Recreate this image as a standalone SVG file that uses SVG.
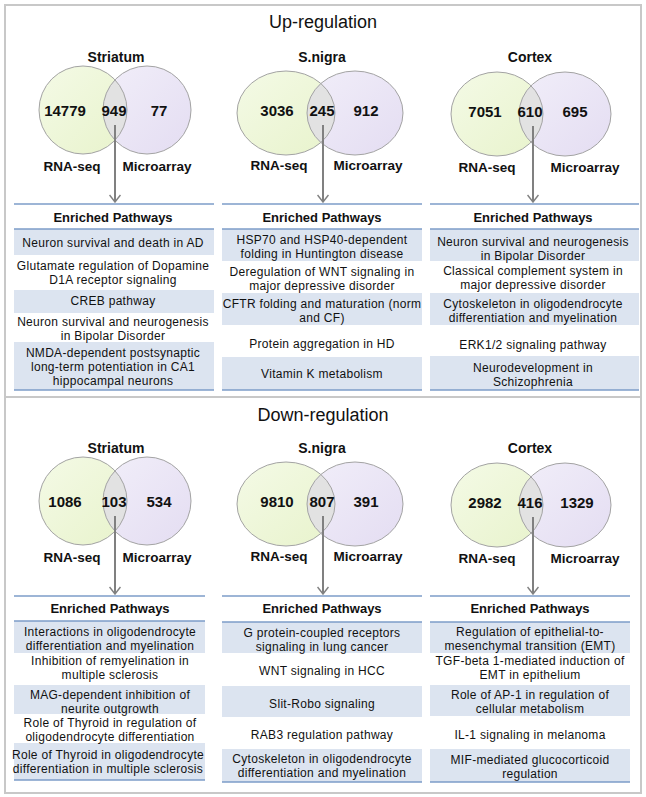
<svg xmlns="http://www.w3.org/2000/svg" width="646" height="797" viewBox="0 0 646 797">
<style>
.title{font-family:"Liberation Sans",Arial,sans-serif;font-size:18px;fill:#111;text-anchor:middle}
.lbl{font-family:"Liberation Sans",Arial,sans-serif;font-size:14px;font-weight:bold;fill:#111;text-anchor:middle}
.num{font-family:"Liberation Sans",Arial,sans-serif;font-size:15px;font-weight:bold;fill:#111;text-anchor:middle}
.set{font-family:"Liberation Sans",Arial,sans-serif;font-size:13.5px;font-weight:bold;fill:#111;text-anchor:middle}
.hd{font-family:"Liberation Sans",Arial,sans-serif;font-size:13px;font-weight:bold;fill:#111;text-anchor:middle}
.tx{font-family:"Liberation Sans",Arial,sans-serif;font-size:12px;letter-spacing:0.3px;fill:#111;text-anchor:middle}
.sh{fill:#dce4f0}
.tl{stroke:#7d9cc8;stroke-width:1.5}
.cg{fill:url(#gG);stroke:none}
.cp{fill:url(#gP);stroke:none}
.ci{fill:#e2e2e2;stroke:none}
.co{fill:none;stroke:#a3a3a3;stroke-width:1}
.arr{stroke:#808080;stroke-width:2;fill:none;marker-end:url(#ah)}
</style>
<defs>
<linearGradient id="gG" x1="0" y1="0" x2="1" y2="1"><stop offset="0" stop-color="#f4fae6"/><stop offset="1" stop-color="#e8f3cc"/></linearGradient>
<linearGradient id="gP" x1="0" y1="0" x2="1" y2="1"><stop offset="0" stop-color="#f1eef9"/><stop offset="1" stop-color="#e4ddf2"/></linearGradient>
<marker id="ah" viewBox="0 0 10 12" refX="9" refY="6" markerWidth="10" markerHeight="12" markerUnits="userSpaceOnUse" orient="auto">
<path d="M2,0.5 L9,6 L2,11.5" fill="none" stroke="#808080" stroke-width="1.5"/>
</marker>
<clipPath id="c1"><circle cx="83" cy="110" r="44"/></clipPath>
<clipPath id="c2"><ellipse cx="286" cy="113" rx="49" ry="42"/></clipPath>
<clipPath id="c3"><ellipse cx="497" cy="114" rx="46" ry="42"/></clipPath>
<clipPath id="c4"><circle cx="83" cy="501" r="44"/></clipPath>
<clipPath id="c5"><ellipse cx="286" cy="504" rx="49" ry="42"/></clipPath>
<clipPath id="c6"><ellipse cx="497" cy="505" rx="46" ry="42"/></clipPath>
</defs>
<rect x="0" y="0" width="646" height="797" fill="#fff"/>
<g id="frame">
<rect x="5" y="5" width="636" height="788" fill="#fff" stroke="#c8c8c8" stroke-width="2"/>
<line x1="5" y1="397" x2="641" y2="397" stroke="#c8c8c8" stroke-width="2"/>
</g>
<text class="title" x="323" y="28">Up-regulation</text>
<text class="title" x="323" y="421">Down-regulation</text>

<!-- Top venns -->
<g id="venn-up-striatum">
<text class="lbl" x="116" y="62">Striatum</text>
<circle class="cg" cx="83" cy="110" r="44"/>
<circle class="cp" cx="147" cy="110" r="44"/>
<circle class="ci" cx="147" cy="110" r="44" clip-path="url(#c1)"/>
<circle class="co" cx="83" cy="110" r="44"/>
<circle class="co" cx="147" cy="110" r="44"/>
<text class="num" x="65" y="115.5">14779</text>
<text class="num" x="114" y="115.5">949</text>
<text class="num" x="159" y="115.5">77</text>
<text class="set" x="72" y="171">RNA-seq</text>
<text class="set" x="157" y="171">Microarray</text>
</g>
<g id="venn-up-snigra">
<text class="lbl" x="322" y="62">S.nigra</text>
<ellipse class="cg" cx="286" cy="113" rx="49" ry="42"/>
<ellipse class="cp" cx="355" cy="113" rx="48" ry="42"/>
<ellipse class="ci" cx="355" cy="113" rx="48" ry="42" clip-path="url(#c2)"/>
<ellipse class="co" cx="286" cy="113" rx="49" ry="42"/>
<ellipse class="co" cx="355" cy="113" rx="48" ry="42"/>
<text class="num" x="277" y="115.5">3036</text>
<text class="num" x="322" y="115.5">245</text>
<text class="num" x="366" y="115.5">912</text>
<text class="set" x="279" y="170">RNA-seq</text>
<text class="set" x="368" y="170">Microarray</text>
</g>
<g id="venn-up-cortex">
<text class="lbl" x="530" y="62">Cortex</text>
<ellipse class="cg" cx="497" cy="114" rx="46" ry="42"/>
<ellipse class="cp" cx="565" cy="114" rx="46" ry="42"/>
<ellipse class="ci" cx="565" cy="114" rx="46" ry="42" clip-path="url(#c3)"/>
<ellipse class="co" cx="497" cy="114" rx="46" ry="42"/>
<ellipse class="co" cx="565" cy="114" rx="46" ry="42"/>
<text class="num" x="485" y="116.5">7051</text>
<text class="num" x="530" y="116.5">610</text>
<text class="num" x="575" y="116.5">695</text>
<text class="set" x="487" y="172">RNA-seq</text>
<text class="set" x="585" y="172">Microarray</text>
</g>

<!-- Bottom venns -->
<g id="venn-down-striatum">
<text class="lbl" x="116" y="453">Striatum</text>
<circle class="cg" cx="83" cy="501" r="44"/>
<circle class="cp" cx="147" cy="501" r="44"/>
<circle class="ci" cx="147" cy="501" r="44" clip-path="url(#c4)"/>
<circle class="co" cx="83" cy="501" r="44"/>
<circle class="co" cx="147" cy="501" r="44"/>
<text class="num" x="65" y="506.5">1086</text>
<text class="num" x="114" y="506.5">103</text>
<text class="num" x="159" y="506.5">534</text>
<text class="set" x="72" y="562">RNA-seq</text>
<text class="set" x="157" y="562">Microarray</text>
</g>
<g id="venn-down-snigra">
<text class="lbl" x="322" y="453">S.nigra</text>
<ellipse class="cg" cx="286" cy="504" rx="49" ry="42"/>
<ellipse class="cp" cx="355" cy="504" rx="48" ry="42"/>
<ellipse class="ci" cx="355" cy="504" rx="48" ry="42" clip-path="url(#c5)"/>
<ellipse class="co" cx="286" cy="504" rx="49" ry="42"/>
<ellipse class="co" cx="355" cy="504" rx="48" ry="42"/>
<text class="num" x="277" y="506.5">9810</text>
<text class="num" x="322" y="506.5">807</text>
<text class="num" x="366" y="506.5">391</text>
<text class="set" x="279" y="561">RNA-seq</text>
<text class="set" x="368" y="561">Microarray</text>
</g>
<g id="venn-down-cortex">
<text class="lbl" x="530" y="453">Cortex</text>
<ellipse class="cg" cx="497" cy="505" rx="46" ry="42"/>
<ellipse class="cp" cx="565" cy="505" rx="46" ry="42"/>
<ellipse class="ci" cx="565" cy="505" rx="46" ry="42" clip-path="url(#c6)"/>
<ellipse class="co" cx="497" cy="505" rx="46" ry="42"/>
<ellipse class="co" cx="565" cy="505" rx="46" ry="42"/>
<text class="num" x="485" y="507.5">2982</text>
<text class="num" x="530" y="507.5">416</text>
<text class="num" x="577" y="507.5">1329</text>
<text class="set" x="487" y="563">RNA-seq</text>
<text class="set" x="585" y="563">Microarray</text>
</g>

<!-- Top tables -->
<g id="table-up-striatum">
<rect class="sh" x="14" y="229" width="200" height="26"/>
<rect class="sh" x="14" y="290" width="200" height="23"/>
<rect class="sh" x="14" y="342" width="200" height="48"/>
<line class="tl" x1="14" y1="204" x2="214" y2="204"/>
<line class="tl" x1="14" y1="229" x2="214" y2="229"/>
<line class="tl" x1="14" y1="390" x2="214" y2="390"/>
<text class="hd" x="113" y="221.5">Enriched Pathways</text>
<text class="tx" x="113" y="247">Neuron survival and death in AD</text>
<text class="tx" x="113" y="270">Glutamate regulation of Dopamine</text>
<text class="tx" x="113" y="284">D1A receptor signaling</text>
<text class="tx" x="113" y="305">CREB pathway</text>
<text class="tx" x="113" y="326">Neuron survival and neurogenesis</text>
<text class="tx" x="113" y="340">in Bipolar Disorder</text>
<text class="tx" x="113" y="357">NMDA-dependent postsynaptic</text>
<text class="tx" x="113" y="371">long-term potentiation in CA1</text>
<text class="tx" x="113" y="385">hippocampal neurons</text>
</g>
<g id="table-up-snigra">
<rect class="sh" x="222" y="229" width="200" height="32"/>
<rect class="sh" x="222" y="293" width="200" height="32"/>
<rect class="sh" x="222" y="357" width="200" height="33"/>
<line class="tl" x1="222" y1="204" x2="422" y2="204"/>
<line class="tl" x1="222" y1="229" x2="422" y2="229"/>
<line class="tl" x1="222" y1="390" x2="422" y2="390"/>
<text class="hd" x="322" y="221.5">Enriched Pathways</text>
<text class="tx" x="322" y="244">HSP70 and HSP40-dependent</text>
<text class="tx" x="322" y="258">folding in Huntington disease</text>
<text class="tx" x="322" y="276">Deregulation of WNT signaling in</text>
<text class="tx" x="322" y="290">major depressive disorder</text>
<text class="tx" x="322" y="307.5">CFTR folding and maturation (norm</text>
<text class="tx" x="322" y="321.5">and CF)</text>
<text class="tx" x="322" y="347.5">Protein aggregation in HD</text>
<text class="tx" x="322" y="377.5">Vitamin K metabolism</text>
</g>
<g id="table-up-cortex">
<rect class="sh" x="430" y="229" width="209" height="32"/>
<rect class="sh" x="430" y="293" width="209" height="32"/>
<rect class="sh" x="430" y="356" width="209" height="34"/>
<line class="tl" x1="430" y1="204" x2="639" y2="204"/>
<line class="tl" x1="430" y1="229" x2="639" y2="229"/>
<line class="tl" x1="430" y1="390" x2="639" y2="390"/>
<text class="hd" x="533" y="221.5">Enriched Pathways</text>
<text class="tx" x="533" y="246">Neuron survival and neurogenesis</text>
<text class="tx" x="533" y="260">in Bipolar Disorder</text>
<text class="tx" x="533" y="275">Classical complement system in</text>
<text class="tx" x="533" y="289">major depressive disorder</text>
<text class="tx" x="533" y="307.5">Cytoskeleton in oligodendrocyte</text>
<text class="tx" x="533" y="321.5">differentiation and myelination</text>
<text class="tx" x="533" y="348.5">ERK1/2 signaling pathway</text>
<text class="tx" x="533" y="372">Neurodevelopment in</text>
<text class="tx" x="533" y="386">Schizophrenia</text>
</g>

<!-- Bottom tables -->
<g id="table-down-striatum">
<rect class="sh" x="14" y="621" width="191" height="32"/>
<rect class="sh" x="14" y="685" width="191" height="29"/>
<rect class="sh" x="14" y="743" width="191" height="37"/>
<line class="tl" x1="14" y1="596" x2="205" y2="596"/>
<line class="tl" x1="14" y1="621" x2="205" y2="621"/>
<line class="tl" x1="14" y1="780" x2="205" y2="780"/>
<text class="hd" x="110" y="612.5">Enriched Pathways</text>
<text class="tx" x="110" y="636">Interactions in oligodendrocyte</text>
<text class="tx" x="110" y="650">differentiation and myelination</text>
<text class="tx" x="110" y="664.5">Inhibition of remyelination in</text>
<text class="tx" x="110" y="678.5">multiple sclerosis</text>
<text class="tx" x="110" y="698.5">MAG-dependent inhibition of</text>
<text class="tx" x="110" y="712.5">neurite outgrowth</text>
<text class="tx" x="110" y="726.5">Role of Thyroid in regulation of</text>
<text class="tx" x="110" y="740.5">oligodendrocyte differentiation</text>
<text class="tx" x="108" y="759">Role of Thyroid in oligodendrocyte</text>
<text class="tx" x="108" y="773">differentiation in multiple sclerosis</text>
</g>
<g id="table-down-snigra">
<rect class="sh" x="222" y="622" width="200" height="31"/>
<rect class="sh" x="222" y="686" width="200" height="31"/>
<rect class="sh" x="222" y="749" width="200" height="33"/>
<line class="tl" x1="222" y1="596" x2="422" y2="596"/>
<line class="tl" x1="222" y1="622" x2="422" y2="622"/>
<line class="tl" x1="222" y1="782" x2="422" y2="782"/>
<text class="hd" x="322" y="612.5">Enriched Pathways</text>
<text class="tx" x="322" y="636.5">G protein-coupled receptors</text>
<text class="tx" x="322" y="650.5">signaling in lung cancer</text>
<text class="tx" x="322" y="674.5">WNT signaling in HCC</text>
<text class="tx" x="322" y="707.5">Slit-Robo signaling</text>
<text class="tx" x="322" y="738.5">RAB3 regulation pathway</text>
<text class="tx" x="322" y="763">Cytoskeleton in oligodendrocyte</text>
<text class="tx" x="322" y="777">differentiation and myelination</text>
</g>
<g id="table-down-cortex">
<rect class="sh" x="430" y="622" width="200" height="31"/>
<rect class="sh" x="430" y="685" width="200" height="31"/>
<rect class="sh" x="430" y="749" width="200" height="33"/>
<line class="tl" x1="430" y1="596" x2="630" y2="596"/>
<line class="tl" x1="430" y1="622" x2="630" y2="622"/>
<line class="tl" x1="430" y1="782" x2="630" y2="782"/>
<text class="hd" x="530" y="612.5">Enriched Pathways</text>
<text class="tx" x="530" y="636">Regulation of epithelial-to-</text>
<text class="tx" x="530" y="650">mesenchymal transition (EMT)</text>
<text class="tx" x="530" y="664.5">TGF-beta 1-mediated induction of</text>
<text class="tx" x="530" y="678.5">EMT in epithelium</text>
<text class="tx" x="530" y="699">Role of AP-1 in regulation of</text>
<text class="tx" x="530" y="713">cellular metabolism</text>
<text class="tx" x="530" y="738.5">IL-1 signaling in melanoma</text>
<text class="tx" x="530" y="763.5">MIF-mediated glucocorticoid</text>
<text class="tx" x="530" y="777.5">regulation</text>
</g>

<g id="connectors">
<line class="arr" x1="115" y1="125" x2="115" y2="202"/>
<line class="arr" x1="323" y1="125" x2="323" y2="202"/>
<line class="arr" x1="533" y1="126" x2="533" y2="202"/>
<line class="arr" x1="115" y1="516" x2="115" y2="594"/>
<line class="arr" x1="323" y1="516" x2="323" y2="594"/>
<line class="arr" x1="533" y1="517" x2="533" y2="594"/>
</g>
</svg>
